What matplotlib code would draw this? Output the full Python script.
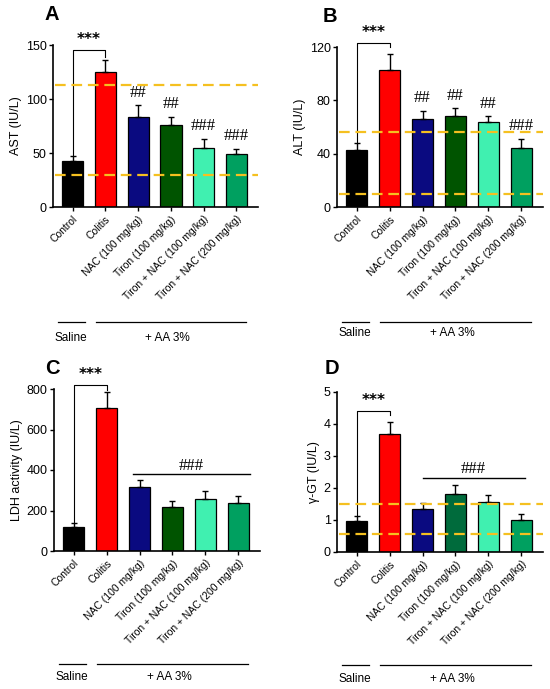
import matplotlib
matplotlib.use("Agg")
import matplotlib.pyplot as plt
import matplotlib.transforms as mtrans

plt.rcParams['font.family'] = ['Liberation Sans', 'DejaVu Sans']

groups = ["Control", "Colitis", "NAC (100 mg/kg)", "Tiron (100 mg/kg)",
          "Tiron + NAC (100 mg/kg)", "Tiron + NAC (200 mg/kg)"]

ast = [43, 125, 83, 76, 55, 49]
ast_err = [4, 11, 11, 7, 8, 5]
alt = [43, 103, 66, 68, 64, 44]
alt_err = [5, 12, 6, 6, 4, 7]
ldh = [120, 705, 315, 215, 258, 235]
ldh_err = [20, 80, 35, 30, 37, 37]
ggt = [0.97, 3.68, 1.35, 1.8, 1.55, 1.0]
ggt_err = [0.15, 0.37, 0.17, 0.28, 0.23, 0.2]

ast_ref = [113, 30]
alt_ref = [56, 10]
ggt_ref = [1.5, 0.55]

ast_marks = ["", "", "##", "##", "###", "###"]
alt_marks = ["", "", "##", "##", "##", "###"]

colors_abc = ["#000000", "#ff0000", "#0a0a80", "#005400", "#40f0b0", "#00a060"]
colors_d = ["#000000", "#ff0000", "#0a0a80", "#006b3c", "#40f0b0", "#00a060"]

fig = plt.figure(figsize=(5.5, 6.89), dpi=100)
W, H = 550, 689


def ax_at(x0, y0, x1, y1):
    return fig.add_axes([x0 / W, 1 - y1 / H, (x1 - x0) / W, (y1 - y0) / H])


def panel(ax, vals, errs, cols, ymax, ystep, ylabel, letter, letter_xy, refs=None,
          marks=None, bar_hash=None, star=None):
    x = list(range(len(vals)))
    ax.bar(x, vals, width=0.65, color=cols, edgecolor="black", linewidth=0.9, zorder=2)
    ax.errorbar(x, vals, yerr=[[0] * len(errs), errs], fmt="none", ecolor="black",
                elinewidth=1.0, capsize=2.5, capthick=1.0, zorder=3)
    ax.set_xlim(-0.6, 5.66)
    ax.set_ylim(0, ymax)
    ax.set_yticks([i * ystep for i in range(int(round(ymax / ystep)) + 1)])
    ax.set_xticks(x)
    ax.set_xticklabels(groups, rotation=45, ha="right", rotation_mode="anchor", fontsize=7.5)
    ax.tick_params(axis="y", labelsize=9, length=3, width=1, pad=1.5)
    ax.tick_params(axis="x", length=3, width=1, pad=2)
    ax.set_ylabel(ylabel, fontsize=9, labelpad=3)
    for s in ["top", "right"]:
        ax.spines[s].set_visible(False)
    ax.spines["left"].set_linewidth(1.2)
    ax.spines["bottom"].set_linewidth(1.2)
    if refs:
        for r in refs:
            ax.axhline(r, color="#f5c020", linestyle=(0, (4.8, 2.6)), linewidth=1.6,
                       zorder=4, xmin=0.01, xmax=1.0)
    if marks:
        for i, m in enumerate(marks):
            if m:
                ax.text(i, vals[i] + errs[i] + ymax * 0.03, m, ha="center", va="bottom",
                        fontsize=12, family="Liberation Serif")
    if bar_hash:
        hy, hx0, hx1 = bar_hash
        ax.plot([hx0, hx1], [hy, hy], color="black", linewidth=1, zorder=3)
        ax.text((hx0 + hx1) / 2, hy + ymax * 0.005, "###", ha="center", va="bottom",
                fontsize=12, family="Liberation Serif")
    # significance bracket
    star_y, star_drop = star
    top0 = vals[0] + errs[0]
    ax.plot([0, 0, 1, 1], [top0, star_y, star_y, star_y - star_drop], color="black",
            linewidth=0.8, clip_on=False, zorder=3)
    ax.text(0.5, star_y + ymax * 0.02, "***", ha="center", va="bottom", fontsize=11,
            fontweight="bold", family="DejaVu Sans", clip_on=False)
    ax.text(letter_xy[0], letter_xy[1], letter, transform=ax.transAxes, fontsize=14.5,
            fontweight="bold", ha="left", va="bottom")


def group_lines(ax, y_line, y_text):
    tr = mtrans.blended_transform_factory(ax.transData, fig.transFigure)
    yl = 1 - y_line / H
    yt = 1 - y_text / H
    ax.plot([-0.45, 0.38], [yl, yl], color="black", linewidth=0.9, transform=tr, clip_on=False)
    ax.plot([0.7, 5.3], [yl, yl], color="black", linewidth=0.9, transform=tr, clip_on=False)
    ax.text(-0.05, yt, "Saline", transform=tr, ha="center", va="center", fontsize=8.5)
    ax.text(2.9, yt, "+ AA 3%", transform=tr, ha="center", va="center", fontsize=8.5)


axA = ax_at(53, 45, 258, 207)
panel(axA, ast, ast_err, colors_abc, 150, 50, "AST (IU/L)", "A", (-0.04, 1.13),
      refs=ast_ref, marks=ast_marks, star=(145, 6))
group_lines(axA, 322, 338)

axB = ax_at(337, 47, 543, 207)
panel(axB, alt, alt_err, colors_abc, 120, 40, "ALT (IU/L)", "B", (-0.07, 1.13),
      refs=alt_ref, marks=alt_marks, star=(123, 3))
group_lines(axB, 322, 333)

axC = ax_at(54, 389, 260, 551)
panel(axC, ldh, ldh_err, colors_abc, 800, 200, "LDH activity (IU/L)", "C", (-0.045, 1.07),
      bar_hash=(378, 1.8, 5.35), star=(820, 25))
group_lines(axC, 664, 677)

axD = ax_at(337, 392, 543, 552)
panel(axD, ggt, ggt_err, colors_d, 5, 1, "\u03b3-GT (IU/L)", "D", (-0.06, 1.09),
      refs=ggt_ref, bar_hash=(2.32, 2.0, 5.1), star=(4.4, 0.12))
group_lines(axD, 665, 679)

fig.savefig("out.png", dpi=100)
